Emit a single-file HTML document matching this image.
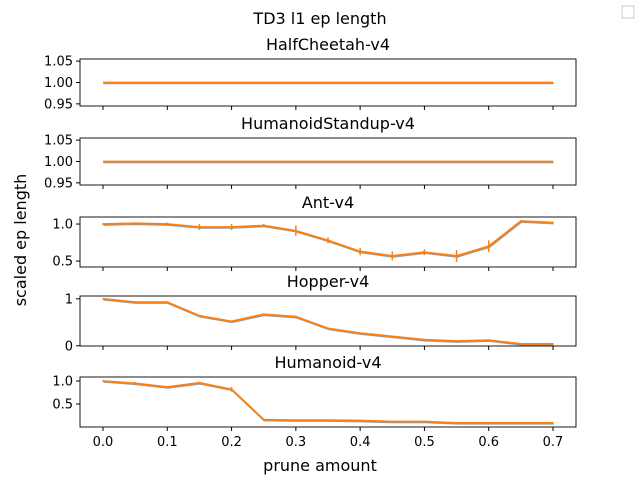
<!DOCTYPE html>
<html><head><meta charset="utf-8"><style>
body{margin:0;background:#fff;}
svg{font-family:"DejaVu Sans","Liberation Sans",sans-serif;}
</style></head><body>
<svg id="chart" width="640" height="480" xmlns="http://www.w3.org/2000/svg">
<text x="320" y="24" font-size="16" text-anchor="middle">TD3 l1 ep length</text>
<rect x="622" y="6" width="12" height="12" fill="#fff" stroke="#ccc"/>
<text transform="translate(26,240) rotate(-90)" font-size="16" text-anchor="middle">scaled ep length</text>
<text x="320" y="471" font-size="16" text-anchor="middle">prune amount</text>
</svg>
<script>
const xVals=[0,0.05,0.1,0.15,0.2,0.25,0.3,0.35,0.4,0.45,0.5,0.55,0.6,0.65,0.7];
const xTicks=[0,0.1,0.2,0.3,0.4,0.5,0.6,0.7];
const titles=["HalfCheetah-v4","HumanoidStandup-v4","Ant-v4","Hopper-v4","Humanoid-v4"];
const halfCheetah=[1,1,1,1,1,1,1,1,1,1,1,1,1,1,1];
const humanoidStandup=[1,1,1,1,1,1,1,1,1,1,1,1,1,1,1];
const ant=[1.0,1.01,1.0,0.96,0.96,0.98,0.91,0.78,0.63,0.57,0.62,0.57,0.70,1.04,1.02];
const antErr=[0.01,0.01,0.02,0.04,0.04,0.02,0.07,0.04,0.05,0.06,0.04,0.08,0.08,0.01,0.01];
const hopper=[1.0,0.93,0.93,0.64,0.52,0.67,0.62,0.37,0.27,0.2,0.13,0.1,0.12,0.04,0.04];
const hopperErr=[0,0.02,0.02,0.01,0.02,0.02,0.02,0.01,0,0,0,0,0,0,0];
const humanoid=[1.0,0.95,0.87,0.96,0.82,0.16,0.15,0.15,0.14,0.12,0.12,0.09,0.09,0.09,0.09];
const humanoidErr=[0,0.03,0.02,0.02,0.05,0,0,0,0,0,0,0,0,0,0];
const cheetahTicks=["1.05","1.00","0.95"],antTicks=["1.0","0.5"],hopperTicks=["1","0"],humTicks=["1.0","0.5"];
const panels=[
 {vals:halfCheetah,err:null,top:59,bot:106,lo:0.945,hi:1.055,ticks:cheetahTicks,name:"halfcheetah"},
 {vals:humanoidStandup,err:null,top:138,bot:185,lo:0.945,hi:1.055,ticks:cheetahTicks,name:"humanoidstandup"},
 {vals:ant,err:antErr,top:217,bot:267,lo:0.42,hi:1.095,ticks:antTicks,name:"ant"},
 {vals:hopper,err:hopperErr,top:296,bot:346,lo:-0.005,hi:1.06,ticks:hopperTicks,name:"hopper"},
 {vals:humanoid,err:humanoidErr,top:377,bot:427,lo:0.0,hi:1.087,ticks:humTicks,name:"humanoid"}
];
const svg=document.getElementById('chart');
const NS="http://www.w3.org/2000/svg";
const L=80,R=576;
const xs=v=>103+v*(553-103)/0.7;
function mk(tag,attrs,parent){const e=document.createElementNS(NS,tag);for(const k in attrs)e.setAttribute(k,attrs[k]);(parent||svg).appendChild(e);return e;}
panels.forEach((p,i)=>{
 const g=mk('g',{});
 
 
 const ys=v=>p.bot-(v-p.lo)/(p.hi-p.lo)*(p.bot-p.top);
 const t=mk('text',{x:(L+R)/2,y:p.top-9,'font-size':16,'text-anchor':'middle'},g);t.textContent=titles[i];
 
 
 p.ticks.forEach(s=>{const v=parseFloat(s);const y=ys(v);
  mk('line',{x1:L-4,x2:L,y1:y,y2:y,stroke:'#000'},g);
  const tt=mk('text',{x:L-7,y:y+4.5,'font-size':13,'text-anchor':'end'},g);tt.textContent=s;
  
  
 });
 xTicks.forEach(v=>{const x=xs(v);mk('line',{x1:x,x2:x,y1:p.bot,y2:p.bot+4,stroke:'#000'},g);
  if(i===4){const tt=mk('text',{x:x,y:p.bot+19,'font-size':13,'text-anchor':'middle'},g);tt.textContent=v.toFixed(1);
   
   }
 });
 const pts=p.vals.map((v,j)=>xs(xVals[j])+','+ys(v)).join(' ');
 mk('polyline',{points:pts,fill:'none',stroke:'#999',"stroke-width":2,transform:'translate(0.5,0.8)'},g);
 const pl=mk('polyline',{points:pts,fill:'none',stroke:'#ff7f0e','stroke-width':1.8},g);
 
 
 if(p.err){p.vals.forEach((v,j)=>{const x=xs(xVals[j]);const e=Math.max(p.err[j],0.012*(p.hi-p.lo));
  mk('line',{x1:x,x2:x,y1:ys(v-e),y2:ys(v+e),stroke:'#ff7f0e','stroke-width':1.5},g);});}
 mk('rect',{x:L,y:p.top,width:R-L,height:p.bot-p.top,fill:'none',stroke:'#000','stroke-width':0.9},g);
});
</script>
</body></html>
